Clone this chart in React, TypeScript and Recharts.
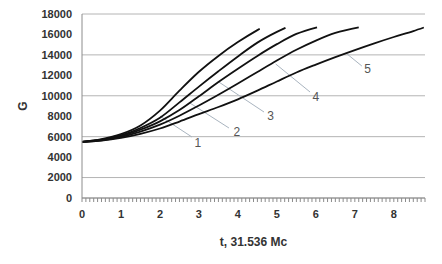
import React from 'react';
import {
    LineChart,
    Line,
    XAxis,
    YAxis,
    CartesianGrid,
    ReferenceLine,
    ReferenceDot,
} from 'recharts';

// [t, G] points
const curve1 = [[0, 5500], [0.5, 5760], [1.0, 6250], [1.5, 7100], [2.0, 8550], [2.5, 10500], [3.0, 12350], [3.5, 13900], [4.0, 15250], [4.5, 16420], [4.56, 16550]];
const curve2 = [[0, 5500], [0.5, 5710], [1.0, 6120], [1.5, 6850], [2.0, 7850], [2.5, 9350], [3.0, 10900], [3.5, 12400], [4.0, 13850], [4.5, 15200], [5.0, 16250], [5.22, 16650]];
const curve3 = [[0, 5500], [0.5, 5680], [1.0, 6050], [1.5, 6680], [2.0, 7500], [2.5, 8600], [3.0, 9950], [3.5, 11350], [4.0, 12650], [4.5, 13900], [5.0, 15050], [5.5, 16050], [6.03, 16700]];
const curve4 = [[0, 5500], [0.5, 5650], [1.0, 5980], [1.5, 6500], [2.0, 7180], [2.5, 8050], [3.0, 9050], [3.5, 10100], [4.0, 11200], [4.5, 12330], [5.0, 13450], [5.5, 14500], [6.0, 15400], [6.5, 16150], [7.1, 16700]];
const curve5 = [[0, 5500], [0.5, 5620], [1.0, 5880], [1.5, 6280], [2.0, 6800], [2.5, 7480], [3.0, 8200], [3.5, 8900], [4.0, 9650], [4.5, 10500], [5.0, 11400], [5.5, 12280], [6.0, 13050], [6.5, 13780], [7.0, 14470], [7.5, 15130], [8.0, 15750], [8.5, 16330], [8.77, 16680]];

const curves = [curve1, curve2, curve3, curve4, curve5];

// callouts: leader from curve to label, label position
const calloutNames = ['1', '2', '3', '4', '5'];
const leaderFrom = [[2.0, 8020], [2.77, 9290], [3.51, 11350], [4.97, 13110], [6.77, 14185]];
const leaderTo = [[2.82, 5970], [3.77, 6850], [4.67, 8410], [5.85, 10370], [7.18, 12910]];
const labelAt = [[2.97, 5450], [3.97, 6500], [4.84, 8000], [6.0, 9950], [7.33, 12600]];

const yTicks = [0, 2000, 4000, 6000, 8000, 10000, 12000, 14000, 16000, 18000];
const xMax = 8.8;
const xTicks = Array.from({ length: 89 }, (_, i) => i / 10);

const tickFont = { fontSize: 11, fontWeight: 'bold', fill: '#333', fontFamily: 'Liberation Sans' };

const toData = (pts: number[][]) => pts.map(([t, g]) => ({ t, g }));

export default function App() {
    return (
        <div style={{ position: 'absolute', left: 0, top: 0, background: '#fff' }}>
            <LineChart width={442} height={264} margin={{ top: 14, right: 17, bottom: 16, left: 0 }}>
                <CartesianGrid vertical={false} stroke="#b4b4b4" />
                <XAxis
                    dataKey="t"
                    type="number"
                    domain={[0, xMax]}
                    ticks={xTicks}
                    interval={0}
                    height={50}
                    stroke="#8c8c8c"
                    tickSize={4}
                    tickMargin={8}
                    tick={tickFont}
                    tickFormatter={(v: number) => (Math.abs(v - Math.round(v)) < 1e-6 ? String(Math.round(v)) : '')}
                    label={{
                        value: 't, 31.536 Mc',
                        position: 'insideBottom',
                        offset: 2,
                        style: { fontSize: 12, fontWeight: 'bold', fill: '#333', fontFamily: 'Liberation Sans' },
                    }}
                />
                <YAxis
                    type="number"
                    domain={[0, 18000]}
                    ticks={yTicks}
                    width={82}
                    stroke="#8c8c8c"
                    tickLine={false}
                    tickSize={8}
                    tickMargin={2}
                    tick={tickFont}
                    label={{
                        content: ({ viewBox }: any) => (
                            <text
                                x={viewBox.x + 23}
                                y={viewBox.y + viewBox.height / 2}
                                transform={`rotate(-90, ${viewBox.x + 23}, ${viewBox.y + viewBox.height / 2})`}
                                textAnchor="middle"
                                dominantBaseline="central"
                                style={{ fontSize: 12, fontWeight: 'bold', fill: '#333', fontFamily: 'Liberation Sans' }}
                            >
                                G
                            </text>
                        ),
                    }}
                />
                {calloutNames.map((name, i) => (
                    <ReferenceLine
                        key={`lead-${name}`}
                        segment={[
                            { x: leaderFrom[i][0], y: leaderFrom[i][1] },
                            { x: leaderTo[i][0], y: leaderTo[i][1] },
                        ]}
                        stroke="#a9b4bf"
                        strokeWidth={1}
                    />
                ))}
                {curves.map((c, i) => (
                    <Line
                        key={`curve-${i}`}
                        data={toData(c)}
                        dataKey="g"
                        type="monotone"
                        stroke="#111"
                        strokeWidth={1.8}
                        dot={false}
                        activeDot={false}
                        isAnimationActive={false}
                    />
                ))}
                {calloutNames.map((name, i) => (
                    <ReferenceDot
                        key={`lbl-${name}`}
                        x={labelAt[i][0]}
                        y={labelAt[i][1]}
                        r={0}
                        fill="none"
                        stroke="none"
                        label={{
                            value: name,
                            position: 'center',
                            style: { fontSize: 12, fill: '#555', fontFamily: 'Liberation Sans' },
                        }}
                    />
                ))}
            </LineChart>
        </div>
    );
}
